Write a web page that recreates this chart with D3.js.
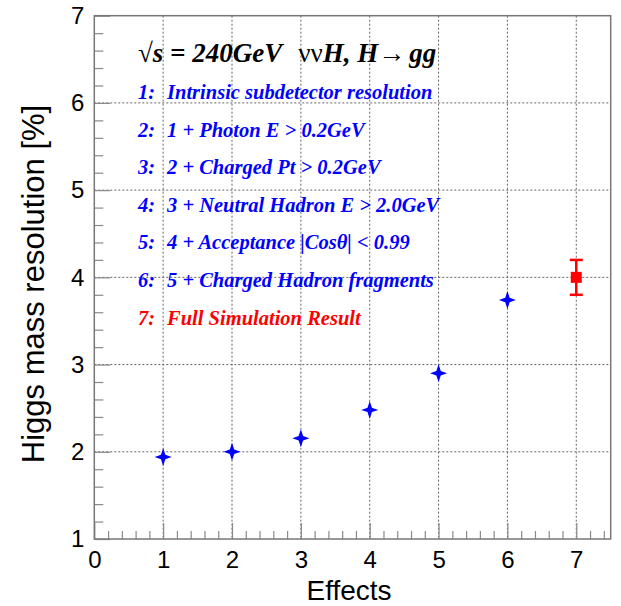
<!DOCTYPE html>
<html>
<head>
<meta charset="utf-8">
<script src="https://cdn.jsdelivr.net/npm/d3@7"></script>
<style>
  body { margin: 0; background: #fff; }
  .axis path { display: none; }
  .axis line { stroke: #8a8a8a; stroke-width: 1.2; }
  .axis text { font-family: "Liberation Sans", Arial, sans-serif; font-size: 24px; fill: #000; }
  .grid line { stroke: #666; stroke-width: 1; stroke-dasharray: 2,2; }
</style>
</head>
<body>
<svg id="svg" width="621" height="606"></svg>
<script>
// data
var effects = [1, 2, 3, 4, 5, 6],
  resolution = [1.94, 2.0, 2.155, 2.48, 2.9, 3.74],
  fullEffect = [7],
  fullResolution = [4.0],
  fullError = [0.2],
  xTicks = [0, 1, 2, 3, 4, 5, 6, 7],
  yTicks = [1, 2, 3, 4, 5, 6, 7],
  legendNums = ["1:", "2:", "3:", "4:", "5:", "6:", "7:"],
  legendTexts = [
    "Intrinsic subdetector resolution",
    "1 + Photon E > 0.2GeV",
    "2 + Charged Pt > 0.2GeV",
    "3 + Neutral Hadron E > 2.0GeV",
    "4 + Acceptance |Cos\u03b8| < 0.99",
    "5 + Charged Hadron fragments",
    "Full Simulation Result"
  ],
  legendColors = ["#0000ff", "#0000ff", "#0000ff", "#0000ff", "#0000ff", "#0000ff", "#ff0000"];

var svg = d3.select("#svg"),
  padL = 94.3,
  padR = 610.7,
  padT = 15.7,
  padB = 539,
  x = d3.scaleLinear().domain([0, 7.5]).range([padL, padR]),
  y = d3.scaleLinear().domain([1, 7]).range([padB, padT]);

svg.append("rect").attr("width", 621).attr("height", 606).attr("fill", "#fff");

// grid
svg.append("g")
  .attr("class", "grid")
  .selectAll("line")
  .data(xTicks.filter(function (d) { return d > 0; }))
  .join("line")
  .attr("x1", function (d) { return x(d); })
  .attr("x2", function (d) { return x(d); })
  .attr("y1", padT)
  .attr("y2", padB);
svg.append("g")
  .attr("class", "grid")
  .selectAll("line")
  .data(yTicks.filter(function (d) { return d > 1 && d < 7; }))
  .join("line")
  .attr("x1", padL)
  .attr("x2", padR)
  .attr("y1", function (d) { return y(d); })
  .attr("y2", function (d) { return y(d); });

// minor ticks
var xMinor = d3.range(0, 7.5001, 0.2).filter(function (d) { return Math.abs(d - Math.round(d)) > 1e-6; });
var yMinor = d3.range(1, 7.0001, 0.2).filter(function (d) { return Math.abs(d - Math.round(d)) > 1e-6; });
svg.append("g")
  .attr("class", "axis")
  .attr("transform", "translate(0," + padB + ")")
  .call(d3.axisBottom(x).tickValues(xMinor).tickSize(-8).tickFormat(""));
svg.append("g")
  .attr("class", "axis")
  .attr("transform", "translate(" + padL + ",0)")
  .call(d3.axisLeft(y).tickValues(yMinor).tickSize(-9).tickFormat(""));

// major ticks + labels
svg.append("g")
  .attr("class", "axis")
  .attr("transform", "translate(0," + padB + ")")
  .call(d3.axisBottom(x).tickValues(xTicks).tickSize(-16).tickPadding(12).tickFormat(d3.format("d")));
svg.append("g")
  .attr("class", "axis")
  .attr("transform", "translate(" + padL + ",0)")
  .call(d3.axisLeft(y).tickValues(yTicks).tickSize(-16).tickPadding(10).tickFormat(d3.format("d")));

// frame
svg.append("rect")
  .attr("x", padL)
  .attr("y", padT)
  .attr("width", padR - padL)
  .attr("height", padB - padT)
  .attr("fill", "none")
  .attr("stroke", "#777")
  .attr("stroke-width", 1.5);

// axis titles
svg.append("text")
  .attr("x", 349)
  .attr("y", 600)
  .attr("text-anchor", "middle")
  .style("font-family", "Liberation Sans, Arial, sans-serif")
  .style("font-size", "28px")
  .text("Effects");
svg.append("text")
  .attr("transform", "translate(44,284) rotate(-90)")
  .attr("text-anchor", "middle")
  .style("font-family", "Liberation Sans, Arial, sans-serif")
  .style("font-size", "31px")
  .text("Higgs mass resolution [%]");

// header
var head = svg.append("text")
  .attr("x", 138)
  .attr("y", 62)
  .style("font-family", "Liberation Serif, Times New Roman, serif")
  .style("font-size", "27px")
  .style("font-weight", "bold")
  .style("font-style", "italic");
head.append("tspan").style("font-style", "normal").style("font-weight", "normal").text("\u221a");
head.append("tspan").text("s = 240GeV");
head.append("tspan").attr("dx", 16).style("font-style", "normal").style("font-weight", "normal").text("\u03bd\u03bd");
head.append("tspan").text("H, H");
head.append("tspan").style("font-style", "normal").style("font-weight", "normal").text("\u2192");
head.append("tspan").attr("dx", 4).text("gg");

// legend lines
var leg = svg.append("g")
  .style("font-family", "Liberation Serif, Times New Roman, serif")
  .style("font-size", "20.5px")
  .style("font-weight", "bold")
  .style("font-style", "italic");
leg.selectAll("text.num")
  .data(legendNums)
  .join("text")
  .attr("class", "num")
  .attr("x", 138)
  .attr("y", function (d, i) { return 99 + i * 37.6; })
  .attr("fill", function (d, i) { return legendColors[i]; })
  .text(function (d) { return d; });
leg.selectAll("text.desc")
  .data(legendTexts)
  .join("text")
  .attr("class", "desc")
  .attr("x", 167)
  .attr("y", function (d, i) { return 99 + i * 37.6; })
  .attr("fill", function (d, i) { return legendColors[i]; })
  .text(function (d) { return d; });

// blue star markers
var star = "M0,-9 L2.2,-2.2 L8.5,0 L2.2,2.2 L0,9 L-2.2,2.2 L-8.5,0 L-2.2,-2.2 Z";
svg.append("g")
  .selectAll("path")
  .data(effects)
  .join("path")
  .attr("transform", function (d, i) { return "translate(" + x(d) + "," + y(resolution[i]) + ")"; })
  .attr("d", star)
  .attr("fill", "#0000ff");

// full simulation point with error bar
var full = svg.append("g").attr("stroke", "#ff0000").attr("stroke-width", 2.5);
fullEffect.forEach(function (d, i) {
  var cx = x(d),
    hi = y(fullResolution[i] + fullError[i]),
    lo = y(fullResolution[i] - fullError[i]);
  full.append("line").attr("x1", cx).attr("x2", cx).attr("y1", hi).attr("y2", lo);
  full.append("line").attr("x1", cx - 6.5).attr("x2", cx + 6.5).attr("y1", hi).attr("y2", hi);
  full.append("line").attr("x1", cx - 6.5).attr("x2", cx + 6.5).attr("y1", lo).attr("y2", lo);
  svg.append("rect")
    .attr("x", cx - 5.5)
    .attr("y", y(fullResolution[i]) - 5.5)
    .attr("width", 11)
    .attr("height", 11)
    .attr("fill", "#ff0000");
});
</script>
</body>
</html>
